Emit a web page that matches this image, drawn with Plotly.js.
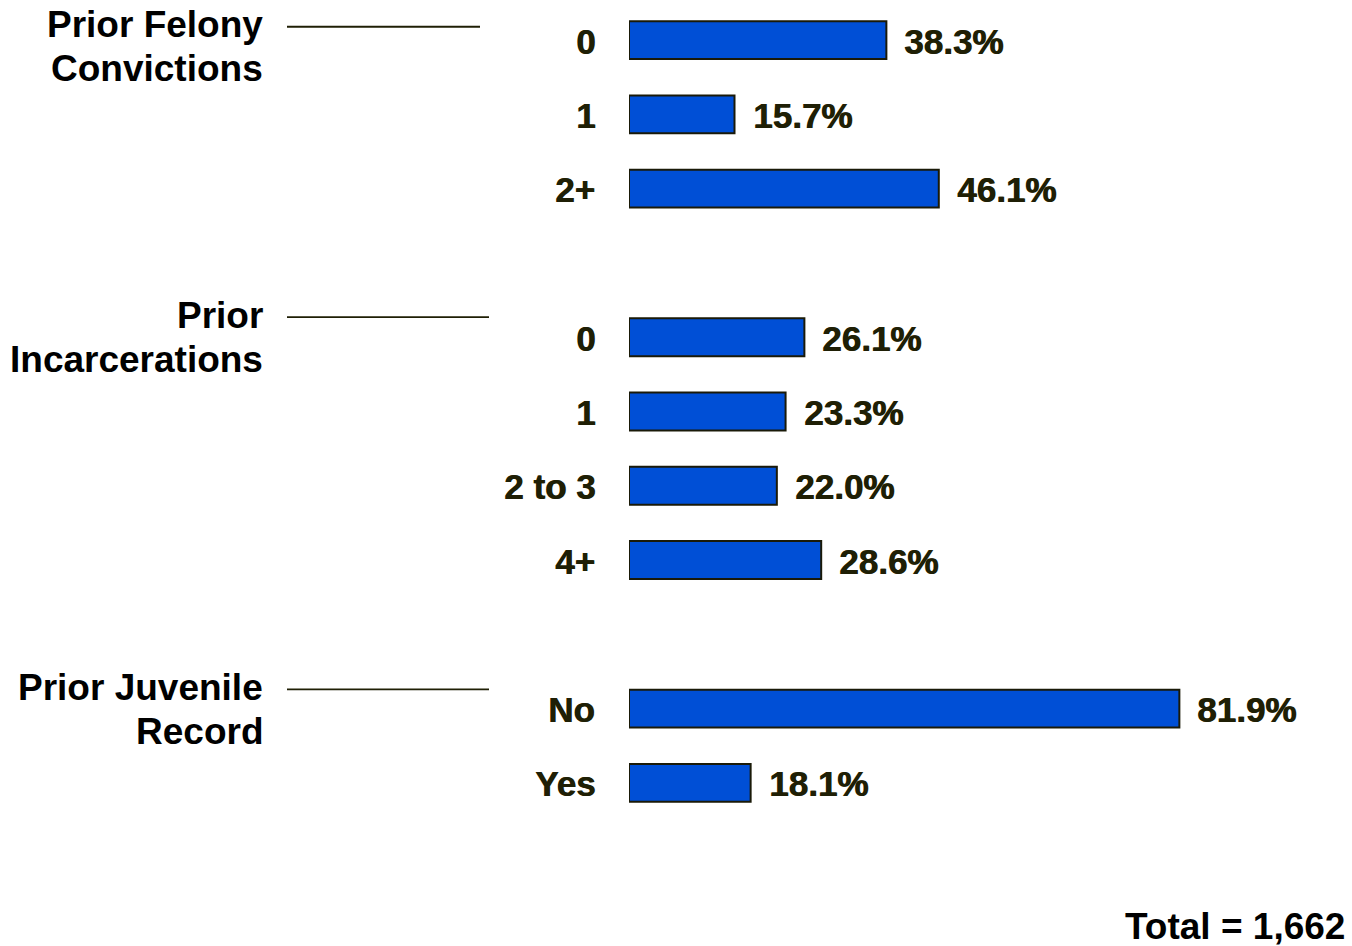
<!DOCTYPE html>
<html>
<head>
<meta charset="utf-8">
<script src="https://cdn.plot.ly/plotly-3.0.1.min.js"></script>
<style>
  html, body { margin: 0; padding: 0; background: #ffffff; }
  #chart { width: 1352px; height: 946px; }
</style>
</head>
<body>
<div id="chart"></div>
<script>
// ---- Data ----
const groupNames = ["Prior Felony<br>Convictions", "Prior<br>Incarcerations", "Prior Juvenile<br>Record"];
const felonyCats = ["0", "1", "2+"];
const felonyVals = [38.3, 15.7, 46.1];
const incarCats = ["0", "1", "2 to 3", "4+"];
const incarVals = [26.1, 23.3, 22.0, 28.6];
const juvenileCats = ["No", "Yes"];
const juvenileVals = [81.9, 18.1];
const totalLabel = "Total = 1,662";

const groupCats = [felonyCats, incarCats, juvenileCats];
const groupVals = [felonyVals, incarVals, juvenileVals];

// ---- Build slots (one empty slot between groups) ----
const ys = [], xs = [], labels = [], groupStart = [];
let slot = 0;
groupCats.forEach((cats, g) => {
  groupStart.push(slot);
  cats.forEach((c, i) => {
    ys.push(slot); xs.push(groupVals[g][i]); labels.push(c);
    slot++;
  });
  slot++;
});
const lastSlot = slot - 2;

const W = 1352, H = 946;
const mL = 629, mR = 51, mT = 3, mB = 126;
const plotW = W - mL - mR;
const plotH = H - mT - mB;
const px2paperX = p => (p - mL) / plotW;
const px2paperY = p => (H - mB - p) / plotH;

const darkText = '#1f1f05';
const sans = '"Liberation Sans", Arial, Helvetica, sans-serif';
const heavyFont = { family: sans, size: 35, color: darkText, weight: 'bold', shadow: '0.8px 0px 0px #1f1f05' };

const trace = {
  type: 'bar',
  orientation: 'h',
  x: xs,
  y: ys,
  width: 0.51,
  marker: { color: '#004fd6', line: { color: '#1a1a08', width: 2 } },
  hoverinfo: 'none'
};

const annotations = [];
ys.forEach((y, i) => {
  annotations.push({
    x: 0, y: y, xref: 'x', yref: 'y', text: labels[i],
    showarrow: false, xanchor: 'right', yanchor: 'middle', xshift: -32, yshift: -1,
    font: heavyFont
  });
  annotations.push({
    x: xs[i], y: y, xref: 'x', yref: 'y', text: xs[i].toFixed(1) + '%',
    showarrow: false, xanchor: 'left', yanchor: 'middle', xshift: 16, yshift: -1,
    font: heavyFont
  });
});

const shapes = [];
const groupShift = [-0.18, -0.27, -0.26];
groupNames.forEach((name, g) => {
  const y0 = groupStart[g] + groupShift[g];
  name.split('<br>').forEach((line, k) => {
    annotations.push({
      x: px2paperX(265), y: y0, xref: 'paper', yref: 'y', text: line,
      showarrow: false, xanchor: 'right', yanchor: 'middle', yshift: -k * 44 + 2,
      font: { family: sans, size: 37, color: '#000000', weight: 'bold' }
    });
  });
  shapes.push({
    type: 'line', xref: 'paper', yref: 'y',
    x0: px2paperX(287), x1: px2paperX(g === 0 ? 480 : 489), y0: y0, y1: y0,
    line: { color: '#1f1f05', width: 1.8 }
  });
});

annotations.push({
  x: px2paperX(1347), y: px2paperY(926), xref: 'paper', yref: 'paper', text: totalLabel,
  showarrow: false, xanchor: 'right', yanchor: 'middle',
  font: { family: sans, size: 37, color: '#000000', weight: 'bold' }
});

const layout = {
  width: W, height: H,
  margin: { l: mL, r: mR, t: mT, b: mB },
  paper_bgcolor: '#ffffff', plot_bgcolor: '#ffffff',
  showlegend: false,
  xaxis: { range: [0, 100], visible: false, fixedrange: true },
  yaxis: { range: [lastSlot + 0.5, -0.5], visible: false, fixedrange: true },
  annotations: annotations,
  shapes: shapes
};

Plotly.newPlot('chart', [trace], layout, { staticPlot: true, displayModeBar: false });
</script>
</body>
</html>
